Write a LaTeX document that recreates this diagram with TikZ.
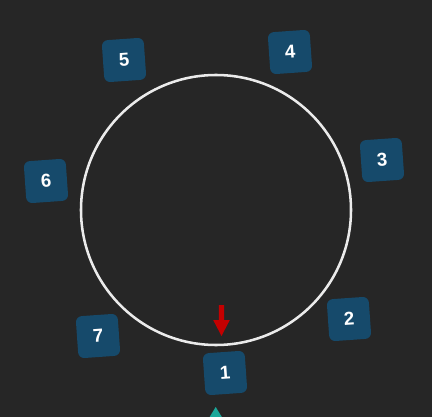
\documentclass[tikz,border=0pt]{standalone}
\usepackage{fontspec}
\setmainfont{Liberation Sans}
\definecolor{bg}{HTML}{262626}
\definecolor{boxblue}{HTML}{164A6B}
\definecolor{arrowred}{HTML}{C40000}
\definecolor{teal}{HTML}{1AA89A}
\begin{document}
\begin{tikzpicture}[x=0.75pt,y=-0.75pt,
  slot/.style={rectangle, rounded corners=4.5pt, fill=boxblue, minimum size=31.5pt,
    inner sep=0pt, rotate=4, text=white, font=\fontsize{14}{16}\selectfont\bfseries}]
\fill[bg] (0,0) rectangle (432,417);
\useasboundingbox (0,0) rectangle (432,417);
% ring
\node[circle, draw=white!92!black, line width=1.9pt, minimum size=202.5pt, inner sep=0pt] (ring) at (216,210) {};
% slots
\node[slot] (s1) at (225,373) {1};
\node[slot] (s2) at (349,319) {2};
\node[slot] (s3) at (382,160) {3};
\node[slot] (s4) at (290,52) {4};
\node[slot] (s5) at (124,60) {5};
\node[slot] (s6) at (46,181) {6};
\node[slot] (s7) at (98,336) {7};
% red arrow
\fill[arrowred] (218.8,305) -- (224.2,305) -- (224.2,320) -- (229.8,320) -- (221.5,336) -- (213.2,320) -- (218.8,320) -- cycle;
% teal marker
\fill[teal] (215.7,407) -- (222.5,418) -- (209,418) -- cycle;
\end{tikzpicture}
\end{document}
